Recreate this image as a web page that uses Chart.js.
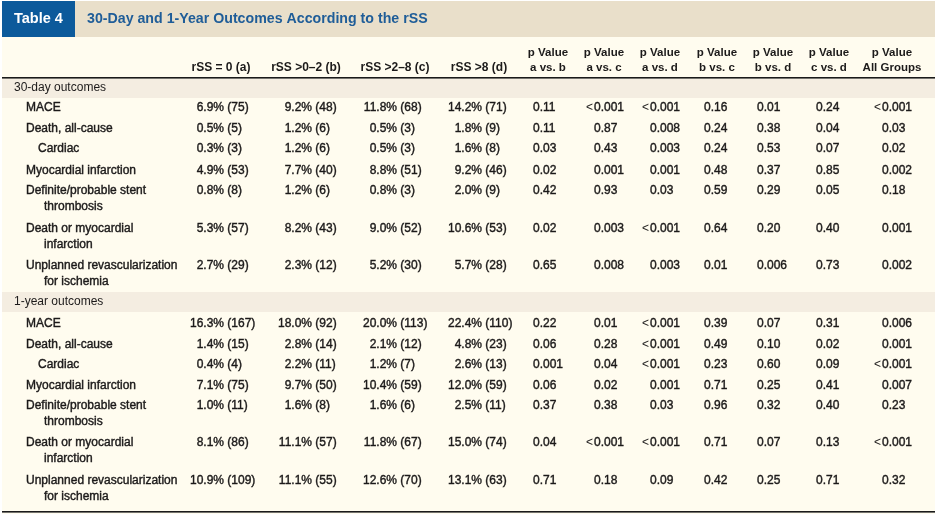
<!DOCTYPE html>
<html>
<head>
<meta charset="utf-8">
<script src="https://cdn.jsdelivr.net/npm/chart.js@4.4.1/dist/chart.umd.min.js"></script>
<style>
html, body { margin: 0; padding: 0; background: #fff; }
canvas { display: block; }
</style>
</head>
<body>
<canvas id="tableChart" width="935" height="514"></canvas>
<script>
// table text
const tableTag = 'Table 4';
const tableTitle = '30-Day and 1-Year Outcomes According to the rSS';
const groupHeaders = ['rSS = 0 (a)', 'rSS >0\u20132 (b)', 'rSS >2\u20138 (c)', 'rSS >8 (d)'];
const pHeaders = ['a vs. b', 'a vs. c', 'a vs. d', 'b vs. c', 'b vs. d', 'c vs. d', 'All Groups'];
const sections = ['30-day outcomes', '1-year outcomes'];
const outcomes = [
    ['MACE'],
    ['Death, all-cause'],
    ['Cardiac'],
    ['Myocardial infarction'],
    ['Definite/probable stent', 'thrombosis'],
    ['Death or myocardial', 'infarction'],
    ['Unplanned revascularization', 'for ischemia']
];

// 30-day rates (%) and counts
const pctA30 = [6.9, 0.5, 0.3, 4.9, 0.8, 5.3, 2.7];
const nA30 = [75, 5, 3, 53, 8, 57, 29];
const pctB30 = [9.2, 1.2, 1.2, 7.7, 1.2, 8.2, 2.3];
const nB30 = [48, 6, 6, 40, 6, 43, 12];
const pctC30 = [11.8, 0.5, 0.5, 8.8, 0.8, 9.0, 5.2];
const nC30 = [68, 3, 3, 51, 3, 52, 30];
const pctD30 = [14.2, 1.8, 1.6, 9.2, 2.0, 10.6, 5.7];
const nD30 = [71, 9, 8, 46, 9, 53, 28];

// 1-year rates (%) and counts
const pctA1 = [16.3, 1.4, 0.4, 7.1, 1.0, 8.1, 10.9];
const nA1 = [167, 15, 4, 75, 11, 86, 109];
const pctB1 = [18.0, 2.8, 2.2, 9.7, 1.6, 11.1, 11.1];
const nB1 = [92, 14, 11, 50, 8, 57, 55];
const pctC1 = [20.0, 2.1, 1.2, 10.4, 1.6, 11.8, 12.6];
const nC1 = [113, 12, 7, 59, 6, 67, 70];
const pctD1 = [22.4, 4.8, 2.6, 12.0, 2.5, 15.0, 13.1];
const nD1 = [110, 23, 13, 59, 11, 74, 63];

// p values, 30-day
const pAB30 = ['0.11', '0.11', '0.03', '0.02', '0.42', '0.02', '0.65'];
const pAC30 = ['<0.001', '0.87', '0.43', '0.001', '0.93', '0.003', '0.008'];
const pAD30 = ['<0.001', '0.008', '0.003', '0.001', '0.03', '<0.001', '0.003'];
const pBC30 = ['0.16', '0.24', '0.24', '0.48', '0.59', '0.64', '0.01'];
const pBD30 = ['0.01', '0.38', '0.53', '0.37', '0.29', '0.20', '0.006'];
const pCD30 = ['0.24', '0.04', '0.07', '0.85', '0.05', '0.40', '0.73'];
const pAll30 = ['<0.001', '0.03', '0.02', '0.002', '0.18', '0.001', '0.002'];

// p values, 1-year
const pAB1 = ['0.22', '0.06', '0.001', '0.06', '0.37', '0.04', '0.71'];
const pAC1 = ['0.01', '0.28', '0.04', '0.02', '0.38', '<0.001', '0.18'];
const pAD1 = ['<0.001', '<0.001', '<0.001', '0.001', '0.03', '<0.001', '0.09'];
const pBC1 = ['0.39', '0.49', '0.23', '0.71', '0.96', '0.71', '0.42'];
const pBD1 = ['0.07', '0.10', '0.60', '0.25', '0.32', '0.07', '0.25'];
const pCD1 = ['0.31', '0.02', '0.09', '0.41', '0.40', '0.13', '0.71'];
const pAll1 = ['0.006', '0.001', '<0.001', '0.007', '0.23', '<0.001', '0.32'];

// layout (table units = px of the 935x514 page)
const rowY30 = [108, 129, 149, 171, 191, 229, 266];
const rowY1 = [324, 345, 365, 386, 406, 443, 481];
const sectionY = [88, 302];
const lineGap = 16;
const labelX = 26, subLabelX = 38, wrapX = 44, sectionX = 14;
const rateX = [224, 312, 397, 482];           // right edge of the "%" part
const groupHeadX = [221, 306, 395, 479];
const pX = [533, 594, 650, 704, 757, 816, 882]; // left edge of the number
const pHeadX = [548, 604, 660, 717, 773, 829, 892];

const FONT = "'Liberation Sans', Arial, sans-serif";
const colors = {
    body: '#fffcef',
    titleBar: '#e9dfca',
    tagBox: '#0c5a9b',
    title: '#1f5d98',
    band: '#f4ede1',
    text: '#1c1a1a',
    rule: '#1a1a1a'
};

const rateCols30 = [[pctA30, nA30], [pctB30, nB30], [pctC30, nC30], [pctD30, nD30]];
const rateCols1 = [[pctA1, nA1], [pctB1, nB1], [pctC1, nC1], [pctD1, nD1]];
const pCols30 = [pAB30, pAC30, pAD30, pBC30, pBD30, pCD30, pAll30];
const pCols1 = [pAB1, pAC1, pAD1, pBC1, pBD1, pCD1, pAll1];

// one invisible point per cell; the plugin writes text at each point
const datasets = [];
function addColumn(kind, col, x, rowsY, cells) {
    datasets.push({
        kind, col, cells,
        data: rowsY.map(y => ({ x, y })),
        pointRadius: 0,
        pointHoverRadius: 0,
        showLine: false
    });
}
addColumn('label', 0, labelX, rowY30, outcomes);
addColumn('label', 0, labelX, rowY1, outcomes);
rateCols30.forEach((c, i) => addColumn('rate', i, rateX[i], rowY30, c[0].map((v, r) => [v, c[1][r]])));
rateCols1.forEach((c, i) => addColumn('rate', i, rateX[i], rowY1, c[0].map((v, r) => [v, c[1][r]])));
pCols30.forEach((c, i) => addColumn('p', i, pX[i], rowY30, c));
pCols1.forEach((c, i) => addColumn('p', i, pX[i], rowY1, c));

// text with a hairline stroke, to get the medium weight of the print font
function medText(ctx, s, x, y) {
    ctx.fillText(s, x, y);
    ctx.strokeText(s, x, y);
}

const tablePlugin = {
    id: 'tablePlugin',
    beforeDatasetsDraw(chart) {
        const ctx = chart.ctx;
        const xs = chart.scales.x, ys = chart.scales.y;
        const px = v => xs.getPixelForValue(v);
        const py = v => ys.getPixelForValue(v);
        ctx.save();
        // page and title bar
        ctx.fillStyle = colors.body;
        ctx.fillRect(px(2), py(37), px(935) - px(2), py(514) - py(37));
        ctx.fillStyle = colors.titleBar;
        ctx.fillRect(px(2), py(1), px(935) - px(2), py(37) - py(1));
        ctx.fillStyle = colors.tagBox;
        ctx.fillRect(px(2), py(1), px(75) - px(2), py(37) - py(1));

        ctx.textBaseline = 'middle';
        ctx.fillStyle = '#ffffff';
        ctx.font = 'bold 14.5px ' + FONT;
        ctx.textAlign = 'left';
        ctx.fillText(tableTag, px(14), py(19));
        ctx.fillStyle = colors.title;
        ctx.font = 'bold 14.2px ' + FONT;
        ctx.fillText(tableTitle, px(87), py(19));

        // section bands
        ctx.fillStyle = colors.band;
        ctx.fillRect(px(2), py(79), px(935) - px(2), py(98) - py(79));
        ctx.fillRect(px(2), py(292), px(935) - px(2), py(312) - py(292));

        // rules
        ctx.fillStyle = colors.rule;
        ctx.fillRect(px(2), py(77), px(935) - px(2), 1.6);
        ctx.fillRect(px(2), py(511), px(935) - px(2), 1.6);

        // column headers
        ctx.fillStyle = colors.text;
        ctx.textAlign = 'center';
        ctx.font = 'bold 12px ' + FONT;
        groupHeaders.forEach((h, i) => ctx.fillText(h, px(groupHeadX[i]), py(68)));
        ctx.font = 'bold 11.5px ' + FONT;
        pHeaders.forEach((h, i) => {
            ctx.fillText('p Value', px(pHeadX[i]), py(53));
            ctx.fillText(h, px(pHeadX[i]), py(68));
        });

        // section titles
        ctx.font = '12px ' + FONT;
        ctx.textAlign = 'left';
        sections.forEach((s, i) => ctx.fillText(s, px(sectionX), py(sectionY[i])));
        ctx.restore();
    },
    afterDatasetsDraw(chart) {
        const ctx = chart.ctx;
        const xs = chart.scales.x;
        const ys = chart.scales.y;
        ctx.save();
        ctx.fillStyle = colors.text;
        ctx.strokeStyle = colors.text;
        ctx.lineWidth = 0.4;
        ctx.textBaseline = 'middle';
        ctx.font = '12px ' + FONT;
        chart.data.datasets.forEach((ds, di) => {
            const meta = chart.getDatasetMeta(di);
            meta.data.forEach((pt, r) => {
                const cell = ds.cells[r];
                if (ds.kind === 'label') {
                    const x = r === 2 ? xs.getPixelForValue(subLabelX) : pt.x;
                    ctx.textAlign = 'left';
                    medText(ctx, cell[0], x, pt.y);
                    if (cell[1]) {
                        const y2 = ys.getPixelForValue(ds.data[r].y + lineGap);
                        medText(ctx, cell[1], xs.getPixelForValue(wrapX), y2);
                    }
                } else if (ds.kind === 'rate') {
                    ctx.textAlign = 'right';
                    medText(ctx, cell[0].toFixed(1) + '%', pt.x, pt.y);
                    ctx.textAlign = 'left';
                    medText(ctx, ' (' + cell[1] + ')', pt.x, pt.y);
                } else {
                    const lt = cell.startsWith('<');
                    const num = lt ? cell.slice(1) : cell;
                    ctx.textAlign = 'left';
                    medText(ctx, num, pt.x, pt.y);
                    if (lt) {
                        ctx.textAlign = 'right';
                        ctx.fillText('<', pt.x - 1, pt.y);
                    }
                }
            });
        });
        ctx.restore();
    }
};

new Chart(document.getElementById('tableChart').getContext('2d'), {
    type: 'scatter',
    data: { datasets },
    options: {
        responsive: false,
        animation: false,
        events: [],
        layout: { padding: 0 },
        plugins: {
            legend: { display: false },
            tooltip: { enabled: false }
        },
        scales: {
            x: { type: 'linear', min: 0, max: 935, display: false },
            y: { type: 'linear', min: 0, max: 514, reverse: true, display: false }
        }
    },
    plugins: [tablePlugin]
});
</script>
</body>
</html>
